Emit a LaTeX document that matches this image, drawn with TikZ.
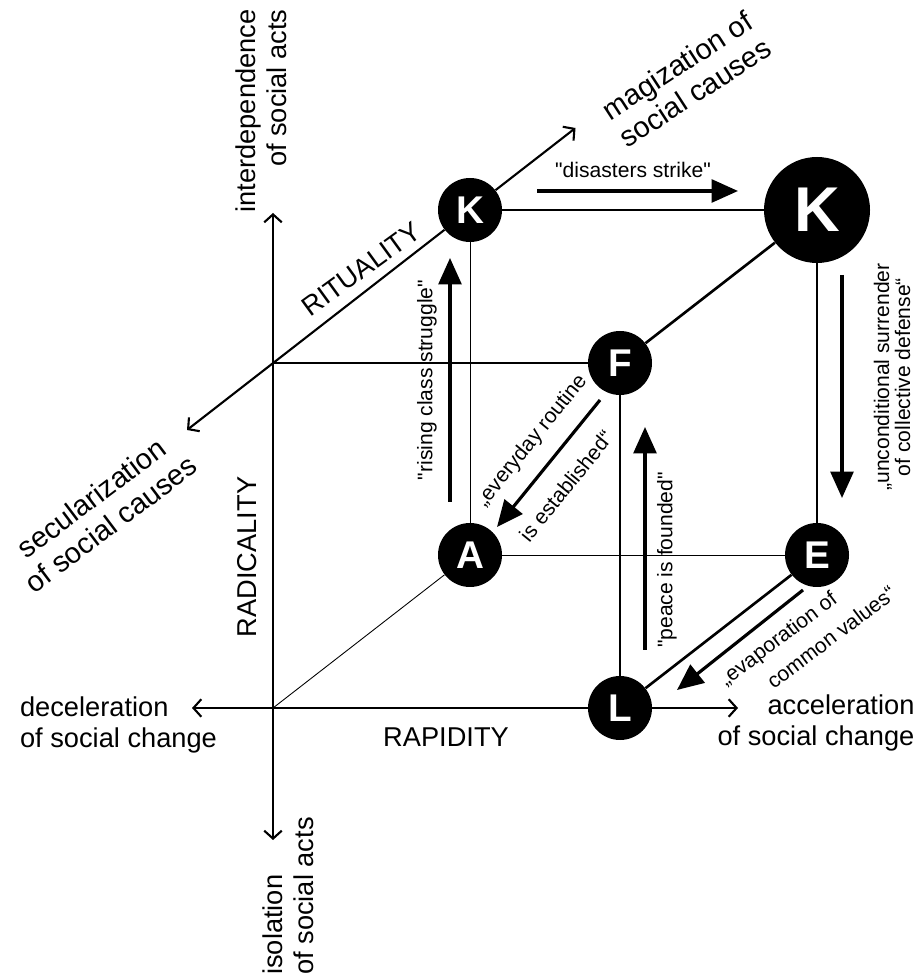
\documentclass[tikz,border=0pt]{standalone}
\usepackage{fontspec}
\setmainfont{Liberation Sans}
\usetikzlibrary{arrows.meta}

\begin{document}
\begin{tikzpicture}[
    axis/.style={line width=1.2pt,-{Straight Barb[length=4.5pt,width=10pt]}},
    thickedge/.style={line width=1.5pt},
    midedge/.style={line width=0.8pt},
    thinedge/.style={line width=0.5pt},
    move/.style={line width=1.8pt,-{Triangle[length=15pt,width=13pt]}},
    state/.style={circle,fill=black,text=white,inner sep=0pt,minimum size=1.28cm,
        font=\bfseries\fontsize{22}{22}\selectfont},
    bigstate/.style={state,minimum size=2.12cm,font=\bfseries\fontsize{36}{36}\selectfont},
    axlabel/.style={font=\fontsize{15.5}{17.5}\selectfont,inner sep=0pt},
    difflabel/.style={font=\fontsize{16.5}{18.5}\selectfont,inner sep=0pt},
    dimlabel/.style={font=\fontsize{15.5}{16}\selectfont,inner sep=0pt},
    movelabel/.style={font=\fontsize{12}{12}\selectfont,inner sep=0pt}]
    \useasboundingbox (-5.46,-5.42) rectangle (12.9,14.16);
    % corners of the cube
    \coordinate (Z) at (0,0);
    \coordinate (O) at (0,6.9);
    \node[state] (L) at (6.94,0) {L};
    \node[state] (F) at (6.94,6.9) {F};
    \node[state] (A) at (3.94,3.06) {A};
    \node[state] (E) at (10.88,3.06) {E};
    \node[state] (K1) at (3.94,9.96) {K};
    \node[bigstate] (K2) at (10.88,9.96) {K};
    % axis ends
    \coordinate (yt) at (0,9.9);
    \coordinate (yb) at (0,-2.64);
    \coordinate (xl) at (-1.62,0);
    \coordinate (xr) at (9.3,0);
    \coordinate (dl) at (-1.72,5.56);
    \coordinate (dr) at (6.05,11.6);
    \draw[axis] (O) -- (yt);
    \draw[axis] (O) -- (yb);
    \draw[axis] (L) -- (xl);
    \draw[axis] (L) -- (xr);
    \draw[axis] (K1) -- (dl);
    \draw[axis] (K1) -- (dr);
    % edges
    \draw[thickedge] (O) -- (F);
    \draw[thickedge] (K2) -- (F);
    \draw[thickedge] (F) -- (L);
    \draw[thickedge] (E) -- (L);
    \draw[midedge] (K1) -- (K2);
    \draw[midedge] (K2) -- (E);
    \draw[thinedge] (K1) -- (A);
    \draw[thinedge] (A) -- (E);
    \draw[thinedge] (A) -- (Z);
    % axis labels
    \node[axlabel,rotate=90,align=right] (up) at (-0.24,11.94) {interdependence\\of social acts};
    \node[axlabel,rotate=90,align=left] (down) at (0.3,-3.76) {isolation\\of social acts};
    \node[axlabel,align=left] (left) at (-3.09,-0.34) {deceleration\\of social change};
    \node[axlabel,align=right] (right) at (10.86,-0.3) {acceleration\\of social change};
    \node[difflabel,rotate=33,align=center] (back) at (8.26,12.58) {magization of\\social causes};
    \node[difflabel,rotate=37,align=center] (front) at (-3.44,3.94) {secularization\\of social causes};
    \node[dimlabel,rotate=36] (rit) at (1.76,8.78) {RITUALITY};
    \node[dimlabel,rotate=90] (rad) at (-0.52,3.02) {RADICALITY};
    \node[dimlabel] (rap) at (3.46,-0.58) {RAPIDITY};
    % moves
    \coordinate (m1a) at (5.28,10.34);
    \coordinate (m1b) at (9.3,10.34);
    \draw[move] (m1a) -- (m1b);
    \node[movelabel] (t1) at (7.2,10.76) {\textquotedbl disasters strike\textquotedbl};
    \coordinate (m2a) at (3.54,4.12);
    \coordinate (m2b) at (3.54,9.0);
    \draw[move] (m2a) -- (m2b);
    \node[movelabel,rotate=90] (t2) at (3.08,6.56) {\textquotedbl rising class struggle\textquotedbl};
    \coordinate (m3a) at (6.54,6.16);
    \coordinate (m3b) at (4.48,3.62);
    \draw[move] (m3a) -- (m3b);
    \node[movelabel,rotate=51] (t3) at (5.18,5.34) {„everyday routine};
    \node[movelabel,rotate=51] (t3b) at (5.86,4.44) {is established“};
    \coordinate (m4a) at (7.44,1.16);
    \coordinate (m4b) at (7.44,5.62);
    \draw[move] (m4a) -- (m4b);
    \node[movelabel,rotate=90] (t4) at (7.88,2.96) {\textquotedbl peace is founded\textquotedbl};
    \coordinate (m5a) at (11.38,8.66);
    \coordinate (m5b) at (11.38,4.2);
    \draw[move] (m5a) -- (m5b);
    \node[movelabel,rotate=90,align=center] (t5) at (12.38,6.62) {„unconditional surrender\\of collective defense“};
    \coordinate (m6a) at (10.6,2.36);
    \coordinate (m6b) at (8.08,0.36);
    \draw[move] (m6a) -- (m6b);
    \node[movelabel,rotate=37] (t6) at (10.12,1.36) {„evaporation of};
    \node[movelabel,rotate=37] (t6b) at (11.16,1.42) {common values“};
\end{tikzpicture}
\end{document}
